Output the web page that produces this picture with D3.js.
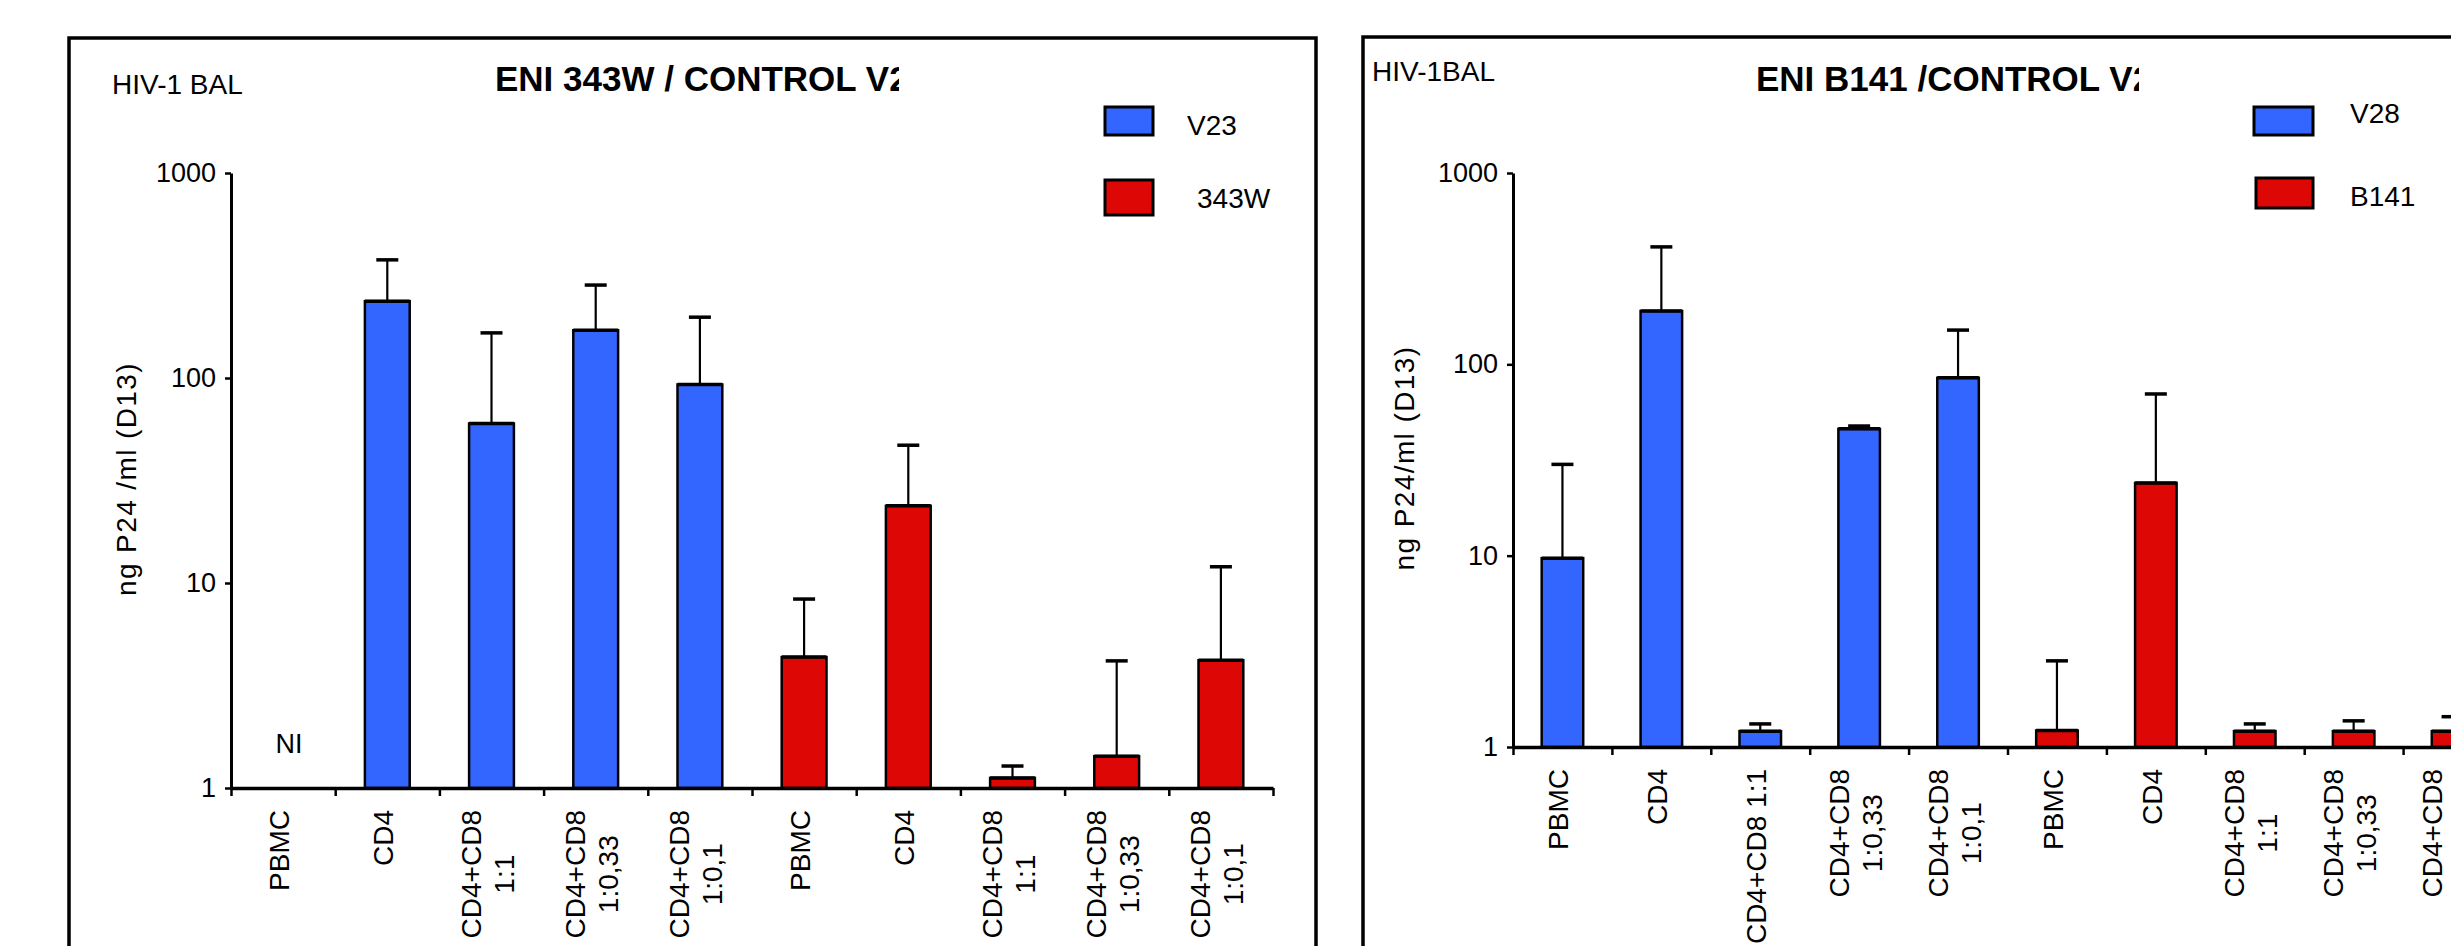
<!DOCTYPE html>
<html>
<head>
<meta charset="utf-8">
<script src="https://cdnjs.cloudflare.com/ajax/libs/d3/7.8.5/d3.min.js"></script>
<style>
  body { margin: 0; background: #fff; }
  text { font-family: "Liberation Sans", Arial, sans-serif; fill: #000; }
</style>
</head>
<body>
<div id="chart"></div>
<script>
// categories (\n = line break in the rotated label)
var labels343 = ['PBMC', 'CD4', 'CD4+CD8\n1:1', 'CD4+CD8\n1:0,33', 'CD4+CD8\n1:0,1',
                 'PBMC', 'CD4', 'CD4+CD8\n1:1', 'CD4+CD8\n1:0,33', 'CD4+CD8\n1:0,1']
var labelsB141 = ['PBMC', 'CD4', 'CD4+CD8 1:1', 'CD4+CD8\n1:0,33', 'CD4+CD8\n1:0,1',
                  'PBMC', 'CD4', 'CD4+CD8\n1:1', 'CD4+CD8\n1:0,33', 'CD4+CD8\n1:0,1']

// mean values and upper error bar ends (null = no bar)
var v23Mean  = [null, 237, 60, 171, 93, null, null, null, null, null]
var v23Err   = [null, 377, 166, 284, 198, null, null, null, null, null]
var w343Mean = [null, null, null, null, null, 4.35, 23.8, 1.12, 1.43, 4.2]
var w343Err  = [null, null, null, null, null, 8.35, 47, 1.28, 4.17, 12]

var v28Mean  = [9.7, 190, 1.21, 46, 85, null, null, null, null, null]
var v28Err   = [30, 411, 1.32, 47.6, 151, null, null, null, null, null]
var b141Mean = [null, null, null, null, null, 1.22, 24, 1.21, 1.21, 1.21]
var b141Err  = [null, null, null, null, null, 2.82, 70, 1.32, 1.37, 1.44]

var yTicks = [1, 10, 100, 1000]

var BLUE = '#3366ff'
var RED = '#dd0806'

var panels = [
  {
    labels: labels343,
    series: [
      {name: 'V23', color: BLUE, mean: v23Mean, err: v23Err},
      {name: '343W', color: RED, mean: w343Mean, err: w343Err}
    ],
    tag: 'HIV-1 BAL',
    title: 'ENI 343W / CONTROL V23',
    yTitle: 'ng P24 /ml (D13)',
    note: 'NI',
    layout: {
      frame: {x: 69, y: 38, w: 1247},
      plot: {x0: 231, x1: 1273, top: 173, bottom: 788},
      tag: {x: 112, y: 94},
      title: {x: 495, y: 91, clip: 899},
      yTitle: {x: 126, y: 479},
      legend: [{x: 1105, y: 107, w: 48, h: 28, tx: 1187, ty: 135},
               {x: 1105, y: 180, w: 48, h: 35, tx: 1197, ty: 208}],
      barFrac: 0.43
    }
  },
  {
    labels: labelsB141,
    series: [
      {name: 'V28', color: BLUE, mean: v28Mean, err: v28Err},
      {name: 'B141', color: RED, mean: b141Mean, err: b141Err}
    ],
    tag: 'HIV-1BAL',
    title: 'ENI B141 /CONTROL V28',
    yTitle: 'ng P24/ml (D13)',
    note: null,
    layout: {
      frame: {x: 1363, y: 37, w: 1300},
      plot: {x0: 1513, x1: 2502, top: 173, bottom: 747},
      tag: {x: 1372, y: 81},
      title: {x: 1756, y: 91, clip: 2139},
      yTitle: {x: 1404, y: 458},
      legend: [{x: 2254, y: 107, w: 59, h: 28, tx: 2350, ty: 123},
               {x: 2256, y: 178, w: 57, h: 30, tx: 2350, ty: 206}],
      barFrac: 0.42
    }
  }
]

var svg = d3.select('#chart').append('svg')
  .attr('width', 2451)
  .attr('height', 946)

svg.append('rect').attr('width', 2451).attr('height', 946).attr('fill', '#fff')

panels.forEach(function (p, pi) {
  var L = p.layout
  var g = svg.append('g')

  // panel frame (runs off the bottom of the picture)
  g.append('rect')
    .attr('x', L.frame.x).attr('y', L.frame.y)
    .attr('width', L.frame.w).attr('height', 1000)
    .attr('fill', 'none').attr('stroke', '#000').attr('stroke-width', 3.5)

  var y = d3.scaleLog().domain([1, 1000]).range([L.plot.bottom, L.plot.top])
  var x = d3.scaleBand().domain(d3.range(p.labels.length)).range([L.plot.x0, L.plot.x1])
  var edge = d3.scaleLinear().domain([0, p.labels.length]).range([L.plot.x0, L.plot.x1])

  // bars + error bars
  p.series.forEach(function (s) {
    var idx = d3.range(s.mean.length).filter(function (i) { return s.mean[i] != null })
    var bw = x.bandwidth() * L.barFrac
    var bars = g.append('g')
    bars.selectAll('rect').data(idx).join('rect')
      .attr('x', function (i) { return x(i) + (x.bandwidth() - bw) / 2 })
      .attr('y', function (i) { return y(s.mean[i]) })
      .attr('width', bw)
      .attr('height', function (i) { return L.plot.bottom - y(s.mean[i]) })
      .attr('fill', s.color)
      .attr('stroke', '#000').attr('stroke-width', 2.5)
    // heavier top edge, as in the original
    bars.selectAll('line').data(idx).join('line')
      .attr('x1', function (i) { return x(i) + (x.bandwidth() - bw) / 2 })
      .attr('x2', function (i) { return x(i) + (x.bandwidth() + bw) / 2 })
      .attr('y1', function (i) { return y(s.mean[i]) })
      .attr('y2', function (i) { return y(s.mean[i]) })
      .attr('stroke', '#000').attr('stroke-width', 3.5)
    var eb = g.append('g').attr('stroke', '#000')
    eb.selectAll('line.v').data(idx).join('line').attr('class', 'v')
      .attr('x1', function (i) { return x(i) + x.bandwidth() / 2 })
      .attr('x2', function (i) { return x(i) + x.bandwidth() / 2 })
      .attr('y1', function (i) { return y(s.mean[i]) })
      .attr('y2', function (i) { return y(s.err[i]) })
      .attr('stroke-width', 2.2)
    eb.selectAll('line.c').data(idx).join('line').attr('class', 'c')
      .attr('x1', function (i) { return x(i) + x.bandwidth() / 2 - 11 })
      .attr('x2', function (i) { return x(i) + x.bandwidth() / 2 + 11 })
      .attr('y1', function (i) { return y(s.err[i]) })
      .attr('y2', function (i) { return y(s.err[i]) })
      .attr('stroke-width', 3.5)
  })

  // y axis
  var ya = g.append('g')
    .attr('transform', 'translate(' + L.plot.x0 + ',0)')
    .call(d3.axisLeft(y).tickValues(yTicks).tickFormat(d3.format('d')).tickSize(6).tickSizeOuter(0).tickPadding(9))
  ya.select('.domain').attr('stroke-width', 3)
  ya.selectAll('.tick line').attr('stroke-width', 2.5)
  ya.selectAll('.tick text').attr('font-size', 27).attr('font-family', '"Liberation Sans", Arial, sans-serif')

  // x axis, ticks on category edges
  var xa = g.append('g')
    .attr('transform', 'translate(0,' + L.plot.bottom + ')')
    .call(d3.axisBottom(edge).tickValues(d3.range(p.labels.length + 1)).tickFormat('').tickSize(8).tickSizeOuter(0))
  xa.select('.domain').attr('stroke-width', 3.5)
  xa.selectAll('.tick line').attr('stroke-width', 2.5)

  // category labels, rotated, wrapped lines centred on each other
  p.labels.forEach(function (lab, i) {
    var lines = lab.split('\n')
    var cx = x(i) + x.bandwidth() / 2 - 4
    var lg = g.append('g')
      .attr('transform', 'translate(' + cx + ',' + (L.plot.bottom + 22) + ') rotate(-90)')
    var t = lg.append('text')
      .attr('font-size', 28)
      .attr('text-anchor', 'middle')
      .attr('dominant-baseline', 'central')
    lines.forEach(function (ln, k) {
      t.append('tspan').attr('x', 0).attr('y', (k - (lines.length - 1) / 2) * 33).text(ln)
    })
    var maxLen = 0
    t.selectAll('tspan').each(function () { maxLen = Math.max(maxLen, this.getComputedTextLength()) })
    t.selectAll('tspan').attr('x', -maxLen / 2)
  })

  // y title
  g.append('text')
    .attr('transform', 'translate(' + L.yTitle.x + ',' + L.yTitle.y + ') rotate(-90)')
    .attr('text-anchor', 'middle')
    .attr('dominant-baseline', 'central')
    .attr('font-size', 28)
    .attr('letter-spacing', 1.4)
    .text(p.yTitle)

  // virus tag
  g.append('text')
    .attr('x', L.tag.x).attr('y', L.tag.y)
    .attr('font-size', 28)
    .text(p.tag)

  // title, cut off by its text box
  var clipId = 'titleclip' + pi
  svg.append('clipPath').attr('id', clipId)
    .append('rect')
    .attr('x', L.title.x - 10).attr('y', L.title.y - 50)
    .attr('width', L.title.clip - L.title.x + 10).attr('height', 70)
  g.append('text')
    .attr('clip-path', 'url(#' + clipId + ')')
    .attr('x', L.title.x).attr('y', L.title.y)
    .attr('font-size', 35).attr('font-weight', 'bold')
    .text(p.title)

  // legend
  p.series.forEach(function (s, k) {
    var it = L.legend[k]
    g.append('rect')
      .attr('x', it.x).attr('y', it.y).attr('width', it.w).attr('height', it.h)
      .attr('fill', s.color).attr('stroke', '#000').attr('stroke-width', 3)
    g.append('text')
      .attr('x', it.tx).attr('y', it.ty)
      .attr('font-size', 28)
      .text(s.name)
  })

  // not-infected note
  if (p.note) {
    g.append('text')
      .attr('x', x(0) + x.bandwidth() / 2 + 6)
      .attr('y', L.plot.bottom - 35)
      .attr('text-anchor', 'middle')
      .attr('font-size', 27)
      .text(p.note)
  }
})
</script>
</body>
</html>
